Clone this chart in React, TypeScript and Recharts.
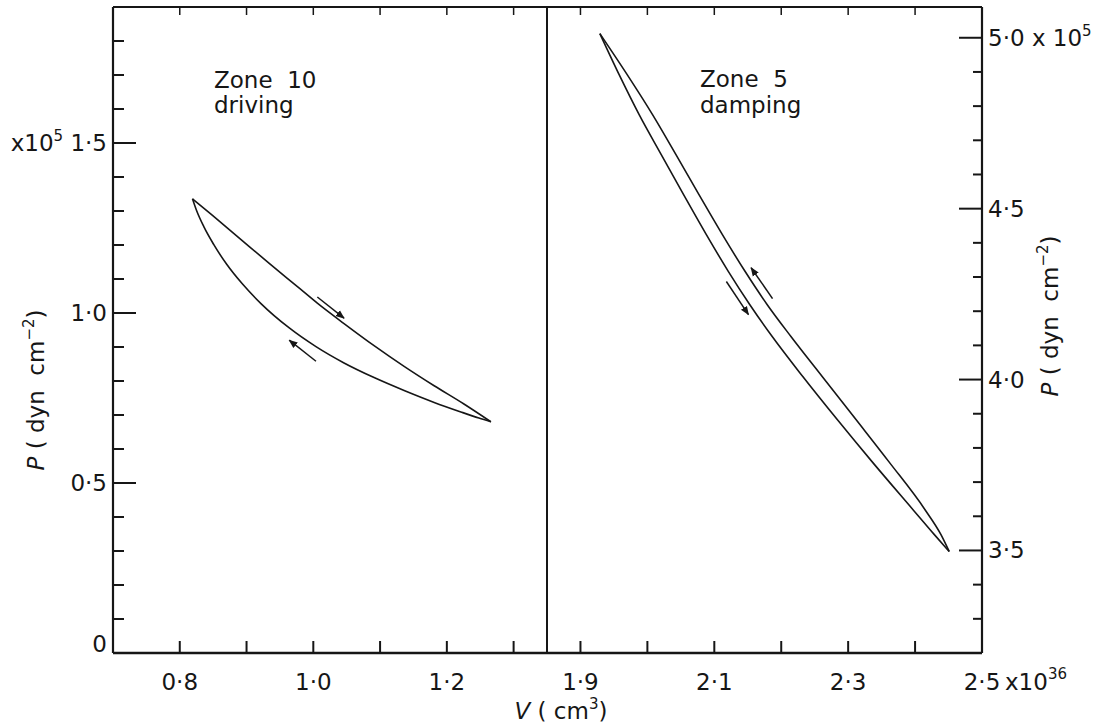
import React from 'react';
import { LineChart, Line, XAxis, YAxis, ReferenceLine } from 'recharts';

const ink = '#161616';
const font = '"DejaVu Sans", sans-serif';
const fs = 23;

// Zone 10 (driving): V in 1e36 cm^3, P in 1e5 dyn cm^-2
const zone10UpperV = [0.819, 0.849, 0.890, 0.934, 0.979, 1.006, 1.046, 1.091, 1.136, 1.181, 1.225, 1.266];
const zone10UpperP = [1.336, 1.287, 1.219, 1.146, 1.073, 1.029, 0.969, 0.904, 0.843, 0.786, 0.733, 0.680];
const zone10LowerV = [0.819, 0.825, 0.836, 0.851, 0.870, 0.894, 0.922, 0.964, 1.004, 1.046, 1.091, 1.136, 1.181, 1.221, 1.248, 1.266];
const zone10LowerP = [1.336, 1.302, 1.254, 1.201, 1.144, 1.085, 1.027, 0.956, 0.901, 0.853, 0.810, 0.772, 0.737, 0.709, 0.691, 0.680];

// Zone 5 (damping)
const zone5UpperV = [1.929, 1.9698, 2.0077, 2.0427, 2.0771, 2.1121, 2.1461, 2.1791, 2.2145, 2.2612, 2.3117, 2.3619, 2.4146, 2.4385, 2.451];
const zone5UpperP = [5.012, 4.892, 4.775, 4.658, 4.541, 4.424, 4.316, 4.219, 4.126, 4.009, 3.883, 3.757, 3.620, 3.547, 3.497];
const zone5LowerV = [1.929, 1.9578, 1.9877, 2.0207, 2.0541, 2.0881, 2.1211, 2.1531, 2.1865, 2.2322, 2.2837, 2.3369, 2.3966, 2.4285, 2.451];
const zone5LowerP = [5.012, 4.892, 4.775, 4.658, 4.541, 4.424, 4.316, 4.219, 4.126, 4.009, 3.883, 3.757, 3.620, 3.547, 3.497];

// direction arrows (tail -> head)
const zone10Arrows = [
  { v1: 1.006, p1: 1.047, v2: 1.046, p2: 0.985 },
  { v1: 1.004, p1: 0.858, v2: 0.964, p2: 0.92 },
];
const zone5Arrows = [
  { v1: 2.187, p1: 4.237, v2: 2.155, p2: 4.327 },
  { v1: 2.118, p1: 4.287, v2: 2.151, p2: 4.19 },
];

// ticks
const leftVTicks = [0.8, 0.9, 1.0, 1.1, 1.2, 1.3];
const leftVLabels = [0.8, 1.0, 1.2];
const rightVTicks = [1.9, 2.0, 2.1, 2.2, 2.3, 2.4, 2.5];
const rightVTopTicks = [1.9, 2.0, 2.1, 2.2, 2.3, 2.4];
const rightVLabels = [1.9, 2.1, 2.3, 2.5];
const leftPTicks = [0, 0.1, 0.2, 0.3, 0.4, 0.5, 0.6, 0.7, 0.8, 0.9, 1.0, 1.1, 1.2, 1.3, 1.4, 1.5, 1.6, 1.7, 1.8];
const leftPLabels = [0, 0.5, 1.0, 1.5];
const rightPTicks = [3.3, 3.4, 3.5, 3.6, 3.7, 3.8, 3.9, 4.0, 4.1, 4.2, 4.3, 4.4, 4.5, 4.6, 4.7, 4.8, 4.9, 5.0];
const rightPLabels = [3.5, 4.0, 4.5, 5.0];

const pts = (v: number[], p: number[]) => v.map((x, i) => ({ v: x, p: p[i] }));
const has = (list: number[], v: number) => list.some((l) => Math.abs(l - v) < 1e-6);
const fmt = (v: number) => (v === 0 ? '0' : v.toFixed(1).replace('.', '\u00b7'));
const txt = { fontSize: fs, fontFamily: font, fill: ink };

const bottomTick = (labels: number[], last?: number) => (props: any) => {
  const { x, y, payload } = props;
  const v = payload.value;
  const isLast = last !== undefined && Math.abs(v - last) < 1e-6;
  return (
    <g>
      {!isLast && <line x1={x} y1={y} x2={x} y2={y - 12} stroke={ink} strokeWidth={2} />}
      {has(labels, v) && (
        <text x={x} y={y + 37} textAnchor="middle" {...txt}>{fmt(v)}</text>
      )}
      {isLast && (
        <text x={x + 23} y={y + 37} {...txt}>
          x10<tspan dy={-11} fontSize={15}>36</tspan>
        </text>
      )}
    </g>
  );
};

const topTick = (props: any) => {
  const { x, y } = props;
  return <line x1={x} y1={y} x2={x} y2={y + 8} stroke={ink} strokeWidth={1.5} />;
};

const leftTick = (props: any) => {
  const { x, y, payload } = props;
  const v = payload.value;
  const major = has(leftPLabels, v);
  return (
    <g>
      {v !== 0 && <line x1={x} y1={y} x2={x + (major ? 23 : 11)} y2={y} stroke={ink} strokeWidth={2} />}
      {major && (
        <text x={x - 6} y={v === 0 ? y - 1 : y + 8} textAnchor="end" {...txt}>
          {v === 1.5 ? (
            <>
              x10<tspan dy={-10} fontSize={15}>5</tspan>
              <tspan dy={10}>{'\u00a01\u00b75'}</tspan>
            </>
          ) : (
            fmt(v)
          )}
        </text>
      )}
    </g>
  );
};

const rightTick = (props: any) => {
  const { x, y, payload } = props;
  const v = payload.value;
  const major = has(rightPLabels, v);
  return (
    <g>
      <line x1={x} y1={y} x2={x - (major ? 23 : 9)} y2={y} stroke={ink} strokeWidth={2} />
      {major && (
        <text x={x + 6} y={y + 8} {...txt}>
          {fmt(v)}
          {v === 5.0 && (
            <>
              {'\u00a0x\u00a010'}
              <tspan dy={-10} fontSize={15}>5</tspan>
            </>
          )}
        </text>
      )}
    </g>
  );
};

const arrowShape = (id: string) => (props: any) => (
  <line x1={props.x1} y1={props.y1} x2={props.x2} y2={props.y2} stroke={ink} strokeWidth={1.5} markerEnd={`url(#${id})`} />
);

const head = (id: string) => (
  <defs>
    <marker id={id} viewBox="0 0 10 10" refX="9" refY="5" markerWidth="6" markerHeight="6" orient="auto">
      <path d="M0,1 L10,5 L0,9 z" fill={ink} />
    </marker>
  </defs>
);

const lineProps = {
  dataKey: 'p',
  type: 'monotone' as const,
  stroke: ink,
  strokeWidth: 1.6,
  dot: false,
  activeDot: false,
  isAnimationActive: false,
};

const axisLine = { stroke: ink, strokeWidth: 2.2 };

export default function App() {
  return (
    <div style={{ position: 'absolute', left: 0, top: 0, width: 1093, height: 725, background: '#fff' }}>
      <div style={{ position: 'absolute', left: 0, top: 0 }}>
        <LineChart width={1093} height={725} margin={{ top: 0, right: 546, bottom: 0, left: 0 }}>
          {head('headL')}
          <XAxis dataKey="v" type="number" domain={[0.7, 1.35]} allowDataOverflow ticks={leftVTicks} interval={0}
            height={72} tickSize={0} tickMargin={0} tickLine={false} axisLine={{ ...axisLine, strokeWidth: 2.6 }}
            tick={bottomTick(leftVLabels)} />
          <XAxis xAxisId="top" orientation="top" dataKey="v" type="number" domain={[0.7, 1.35]} allowDataOverflow
            ticks={leftVTicks} interval={0} height={7} tickSize={0} tickMargin={0} tickLine={false}
            axisLine={axisLine} tick={topTick} />
          <YAxis type="number" domain={[0, 1.9]} allowDataOverflow ticks={leftPTicks} interval={0} width={113}
            tickSize={0} tickMargin={0} tickLine={false} axisLine={axisLine} tick={leftTick} />
          <ReferenceLine x={1.35} stroke={ink} strokeWidth={2} />
          <Line data={pts(zone10UpperV, zone10UpperP)} {...lineProps} />
          <Line data={pts(zone10LowerV, zone10LowerP)} {...lineProps} />
          {zone10Arrows.map((a, i) => (
            <ReferenceLine key={i} segment={[{ x: a.v1, y: a.p1 }, { x: a.v2, y: a.p2 }]} shape={arrowShape('headL')} />
          ))}
          <text x={214} y={88} {...txt}>{'Zone\u00a0\u00a010'}</text>
          <text x={214} y={113} {...txt}>driving</text>
          <text transform="translate(44,390) rotate(-90)" textAnchor="middle" {...txt}>
            <tspan fontStyle="italic">P</tspan>
            {'\u00a0(\u00a0dyn\u00a0\u00a0cm'}
            <tspan dy={-10} fontSize={15}>{'\u22122'}</tspan>
            <tspan dy={10}>)</tspan>
          </text>
          <text x={561} y={719} textAnchor="middle" {...txt}>
            <tspan fontStyle="italic">V</tspan>
            {'\u00a0(\u00a0cm'}
            <tspan dy={-10} fontSize={15}>3</tspan>
            <tspan dy={10}>)</tspan>
          </text>
        </LineChart>
      </div>
      <div style={{ position: 'absolute', left: 0, top: 0 }}>
        <LineChart width={1093} height={725} margin={{ top: 0, right: 0, bottom: 0, left: 547 }}>
          {head('headR')}
          <XAxis dataKey="v" type="number" domain={[1.85, 2.5]} allowDataOverflow ticks={rightVTicks} interval={0}
            height={72} tickSize={0} tickMargin={0} tickLine={false} axisLine={{ ...axisLine, strokeWidth: 2.6 }}
            tick={bottomTick(rightVLabels, 2.5)} />
          <XAxis xAxisId="top" orientation="top" dataKey="v" type="number" domain={[1.85, 2.5]} allowDataOverflow
            ticks={rightVTopTicks} interval={0} height={7} tickSize={0} tickMargin={0} tickLine={false}
            axisLine={axisLine} tick={topTick} />
          <YAxis orientation="right" type="number" domain={[3.2, 5.09]} allowDataOverflow ticks={rightPTicks}
            interval={0} width={111} tickSize={0} tickMargin={0} tickLine={false} axisLine={axisLine}
            tick={rightTick} />
          <Line data={pts(zone5UpperV, zone5UpperP)} {...lineProps} />
          <Line data={pts(zone5LowerV, zone5LowerP)} {...lineProps} />
          {zone5Arrows.map((a, i) => (
            <ReferenceLine key={i} segment={[{ x: a.v1, y: a.p1 }, { x: a.v2, y: a.p2 }]} shape={arrowShape('headR')} />
          ))}
          <text x={700} y={87} {...txt}>{'Zone\u00a0\u00a05'}</text>
          <text x={700} y={113} {...txt}>damping</text>
          <text transform="translate(1058,316) rotate(-90)" textAnchor="middle" {...txt}>
            <tspan fontStyle="italic">P</tspan>
            {'\u00a0(\u00a0dyn\u00a0\u00a0cm'}
            <tspan dy={-10} fontSize={15}>{'\u22122'}</tspan>
            <tspan dy={10}>)</tspan>
          </text>
        </LineChart>
      </div>
    </div>
  );
}
